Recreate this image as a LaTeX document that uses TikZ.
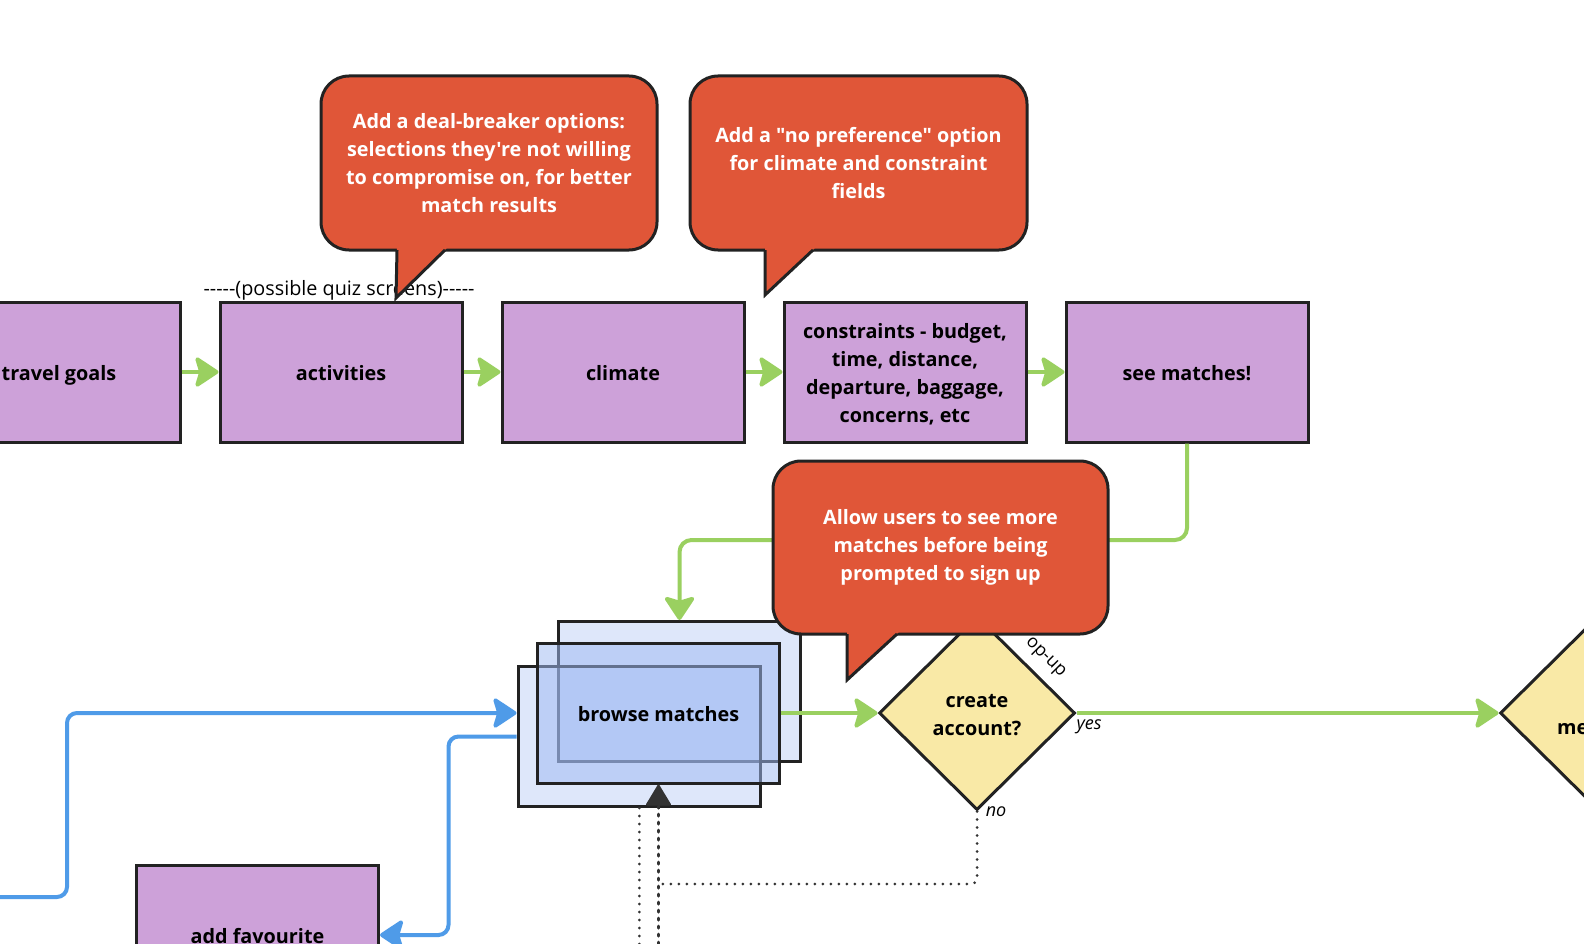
\documentclass[tikz,border=0pt]{standalone}
\usepackage{fontspec}
\setmainfont{Open Sans}[Ligatures=TeXOff]
\usetikzlibrary{shapes.geometric,arrows.meta,calc}
\definecolor{boxpurple}{RGB}{205,161,217}
\definecolor{callred}{RGB}{224,86,56}
\definecolor{diayellow}{RGB}{249,233,166}
\definecolor{grn}{RGB}{154,208,96}
\definecolor{blu}{RGB}{79,155,232}
\definecolor{bord}{RGB}{34,34,34}
\definecolor{stackblue}{RGB}{160,186,242}
\definecolor{dotgrey}{RGB}{51,51,51}
\begin{document}
\begin{tikzpicture}[x=1pt,y=-1pt,
  oneline/.style={text height=23pt, text depth=6pt},
  twolines/.style={text height=51pt, text depth=6pt},
  fourlines/.style={text height=107pt, text depth=6pt},
  box/.style={draw=bord, line width=3pt, fill=boxpurple, minimum width=242pt, minimum height=140pt, inner sep=0pt, align=center, font=\bfseries\fontsize{19.8}{28}\selectfont},
  stackbox/.style={draw=bord, line width=3pt, fill=stackblue, minimum width=242pt, minimum height=140pt, inner sep=0pt, align=center, text opacity=1, font=\bfseries\fontsize{19.8}{28}\selectfont},
  decision/.style={diamond, draw=bord, line width=3pt, fill=diayellow, minimum width=196pt, minimum height=194pt, inner sep=0pt, align=center, font=\bfseries\fontsize{19.8}{28}\selectfont},
  callout/.style={draw=bord, line width=3pt, fill=callred, rounded corners=28pt, inner sep=0pt, align=center, text=white, font=\bfseries\fontsize{19.8}{28}\selectfont},
  tailedge/.style={draw=bord, line width=3pt, line join=miter},
  garrow/.style={draw=grn, line width=4pt, -{Stealth[length=26pt,width=34pt,inset=5pt,round]}},
  barrow/.style={draw=blu, line width=4pt, rounded corners=10pt, -{Stealth[length=26pt,width=34pt,inset=5pt,round]}},
  dotline/.style={draw=dotgrey, line width=3pt, line cap=round, dash pattern=on 0pt off 8pt},
  dasharrow/.style={draw=dotgrey, line width=3pt, line cap=round, dash pattern=on 2pt off 6pt},
  lbl/.style={inner sep=0pt, font=\fontsize{18}{20}\selectfont}
]
\useasboundingbox (0,0) rectangle (1584,944);

% top row
\node[box, oneline] (tg) at (59,372) {travel goals};
\node[box, oneline] (act) at (341,372) {activities};
\node[box, oneline] (clim) at (623,372) {climate};
\node[box, fourlines] (cons) at (905,372) {constraints - budget,\\time, distance,\\departure, baggage,\\concerns, etc};
\node[box, oneline] (see) at (1187,372) {see matches!};
\node[lbl, font=\fontsize{19.8}{22}\selectfont] (quiz) at (339,290) {-----(possible quiz screens)-----};

\draw[garrow] (tg.east) -- (act.west);
\draw[garrow] (act.east) -- (clim.west);
\draw[garrow] (clim.east) -- (cons.west);
\draw[garrow] (cons.east) -- (see.west);

% browse stack
\node[stackbox, fill opacity=0.35] (bback) at (679.5,691.5) {};
\node[stackbox, fill opacity=0.35] (bfront) at (639,736.5) {};
\node[stackbox, oneline, fill opacity=0.52] (browse) at (658.5,713) {browse matches};

% see matches -> browse
\draw[garrow, rounded corners=12pt] (see.south) |- ($(bback.north)+(0,-80)$) -- (bback.north);

% decisions
\node[decision, twolines] (ca) at (977,713) {create\\account?};
\node[decision] (me) at (1598,713) {};
\node[inner sep=0pt, anchor=west, font=\bfseries\fontsize{19.8}{28}\selectfont] (metext) at (1557,729) {me};

\draw[garrow] (browse.east) -- (ca.west);
\draw[garrow] (ca.east) -- (me.west);
\node[lbl, font=\itshape\fontsize{18}{20}\selectfont] (yes) at (1089,727) {yes};
\node[lbl, font=\itshape\fontsize{18}{20}\selectfont] (no) at (996,812) {no};
\node[lbl, rotate=-45] (popup) at (1045,658) {op-up};

% dotted lines
\coordinate (d1s) at (658.5,960);
\coordinate (d2s) at (639.3,960);
\draw[dotline] (d2s) -- (bfront.south -| d2s);
\draw[dotline, rounded corners=6pt] (ca.south) -- (977,884) -- (658.5,884);
\draw[dasharrow] (d1s) -- ($(browse.south)+(0,22)$);
\draw[dotgrey, line width=2pt, -{Triangle[length=22pt,width=26pt,round]}] ($(browse.south)+(0,24)$) -- (browse.south);

% blue lines
\node[box, oneline] (fav) at (257.5,935) {add favourite};
\coordinate (bstart) at (-10,897);
\draw[barrow] (bstart) -- (67,897) -- (67,713) -- (bfront.west |- browse);
\draw[barrow] (bfront.west) -- (448.5,736.5) -- (448.5,935) -- (fav.east);

% callouts
\node[callout, minimum width=336pt, minimum height=174pt] (c1) at (489,163) {Add a deal-breaker options:\\selections they're not willing\\to compromise on, for better\\match results};
\fill[callred] (397,246) -- (396,298) -- (449,246) -- cycle;
\draw[tailedge] (397,250) -- (396,298) -- (445,250);

\node[callout, minimum width=337pt, minimum height=174pt] (c2) at (858.5,163) {Add a "no preference" option\\for climate and constraint\\fields};
\fill[callred] (765,246) -- (765,295) -- (817,246) -- cycle;
\draw[tailedge] (765,250) -- (765,295) -- (813,250);

\node[callout, minimum width=335pt, minimum height=173pt] (c3) at (940.5,547.5) {Allow users to see more\\matches before being\\prompted to sign up};
\fill[callred] (847,630) -- (847,680) -- (901,630) -- cycle;
\draw[tailedge] (847,634) -- (847,680) -- (897,634);
\end{tikzpicture}
\end{document}
